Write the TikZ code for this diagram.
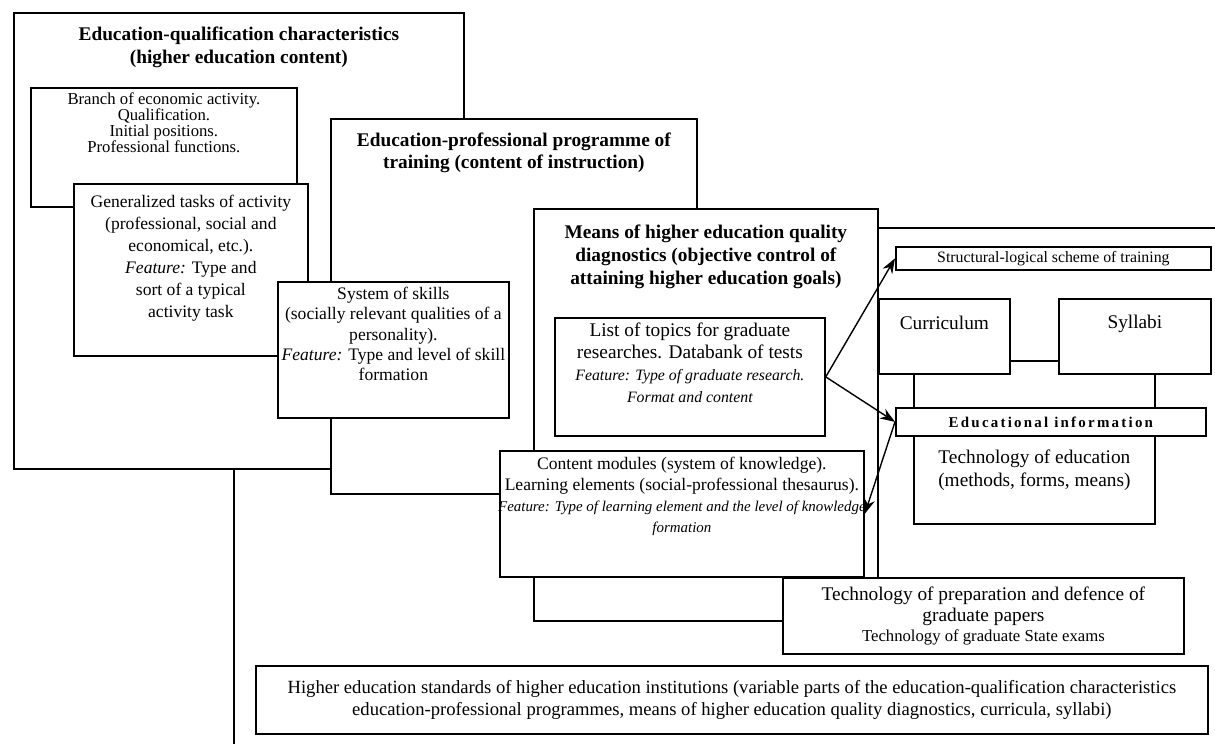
\documentclass[tikz,border=0pt]{standalone}
\usepackage{fontspec}
\setmainfont{Liberation Serif}
\newfontfamily\spacedfont[LetterSpace=15]{Liberation Serif}
\usetikzlibrary{arrows.meta}

\begin{document}
\begin{tikzpicture}[
  blk/.style={rectangle, draw, line width=1pt, fill=white, inner sep=0pt,
              anchor=north west},
  ttl/.style={anchor=north, align=center, inner sep=0pt,
              font=\fontsize{11}{13}\selectfont\bfseries},
  txt/.style={anchor=north, align=center, inner sep=0pt,
              font=\fontsize{10}{12}\selectfont},
  big/.style={font=\fontsize{11}{12.5}\selectfont},
  arr/.style={-{Stealth[length=3mm, width=2.2mm]}, line width=0.8pt},
]
\clip (0,0) rectangle (24.3,-14.86);

% --- back frames ---
\node[blk, minimum width=21cm, minimum height=10cm] (stdframe) at (4.66,-6.0) {};

% --- Education-qualification characteristics ---
\node[blk, minimum width=9cm, minimum height=9.12cm,
  label={[ttl, yshift=-0.3cm]north:{Education-qualification characteristics\\(higher education content)}}]
  (eqc) at (0.26,-0.24) {};
\node[blk, minimum width=5.32cm, minimum height=2.38cm,
  label={[txt, yshift=-0.1cm, font=\fontsize{9.5}{9.2}\selectfont]north:{Branch of economic activity.\\Qualification.\\Initial positions.\\Professional functions.}}]
  (branch) at (0.60,-1.74) {};
\node[blk, minimum width=4.68cm, minimum height=3.44cm,
  label={[txt, yshift=-0.24cm, font=\fontsize{10}{12.5}\selectfont]north:{Generalized tasks of activity\\(professional, social and\\economical, etc.).\\\textit{Feature:} Type and\\sort of a typical\\activity task}}]
  (tasks) at (1.46,-3.66) {};

% --- Education-professional programme ---
\node[blk, minimum width=7.32cm, minimum height=7.5cm,
  label={[ttl, yshift=-0.3cm, font=\fontsize{11}{12.5}\selectfont\bfseries]north:{Education-professional programme of\\training (content of instruction)}}]
  (prog) at (6.60,-2.36) {};
\node[blk, minimum width=4.62cm, minimum height=2.72cm,
  label={[txt, yshift=-0.12cm, font=\fontsize{10}{11.5}\selectfont]north:{System of skills\\(socially relevant qualities of a\\personality).\\\textit{Feature:} Type and level of skill\\formation}}]
  (skills) at (5.54,-5.62) {};

% --- right frame (only its top edge is seen) ---
\node[rectangle, fill=white, inner sep=0pt, anchor=north west,
  minimum width=8cm, minimum height=8cm] (rframe) at (17.2,-4.56) {};
\draw[line width=1pt] (rframe.north west) -- (rframe.north east);

% --- Means of quality diagnostics ---
\node[blk, minimum width=6.88cm, minimum height=8.24cm,
  label={[ttl, yshift=-0.34cm]north:{Means of higher education quality\\diagnostics (objective control of\\attaining higher education goals)}}]
  (diagn) at (10.66,-4.16) {};
\node[blk, minimum width=5.4cm, minimum height=2.36cm,
  label={[txt, yshift=-0.12cm, font=\fontsize{11}{12.5}\selectfont]north:{List of topics for graduate\\researches. Databank of tests\\{\fontsize{9}{12.5}\selectfont\itshape Feature: Type of graduate research.}\\{\fontsize{9}{12.5}\selectfont\itshape Format and content}}}]
  (topics) at (11.08,-6.34) {};
\node[blk, minimum width=7.28cm, minimum height=2.52cm,
  label={[txt, yshift=-0.14cm, font=\fontsize{10}{12}\selectfont]north:{Content modules (system of knowledge).\\Learning elements (social-professional thesaurus).\\{\fontsize{8.5}{12}\selectfont\itshape Feature: Type of learning element and the level of knowledge}\\{\fontsize{8.5}{12}\selectfont\itshape formation}}}]
  (modules) at (9.98,-9.0) {};

% --- curriculum block ---
\node[blk, minimum width=4.82cm, minimum height=3.26cm,
  label={[txt, big, yshift=-1.8cm, font=\fontsize{11}{13}\selectfont]north:{Technology of education\\(methods, forms, means)}}]
  (techedu) at (18.26,-7.2) {};
\node[blk, minimum width=2.62cm, minimum height=1.5cm,
  label={[txt, big, yshift=-0.36cm]north:{Curriculum}}] (curric) at (17.56,-5.96) {};
\node[blk, minimum width=3.04cm, minimum height=1.5cm,
  label={[txt, big, yshift=-0.34cm]north:{Syllabi}}] (syllabi) at (21.16,-5.96) {};
\node[blk, minimum width=6.3cm, minimum height=0.46cm,
  font=\fontsize{9}{10}\selectfont] (scheme) at (17.9,-4.92) {Structural-logical scheme of training};
\node[blk, minimum width=6.2cm, minimum height=0.56cm,
  font=\spacedfont\fontsize{8.5}{10}\selectfont\bfseries] (eduinfo) at (17.9,-8.14) {Educational information};

% --- graduate papers and standards ---
\node[blk, minimum width=8.02cm, minimum height=1.52cm,
  label={[txt, yshift=-0.2cm, font=\fontsize{11}{11.5}\selectfont]north:{Technology of preparation and defence of\\graduate papers\\{\fontsize{9.5}{11}\selectfont Technology of graduate State exams}}}]
  (techprep) at (15.64,-11.54) {};
\node[blk, minimum width=19.04cm, minimum height=1.36cm, align=center,
  font=\fontsize{10.6}{12.5}\selectfont] (standards) at (5.10,-13.3)
  {Higher education standards of higher education institutions (variable parts of the education-qualification characteristics\\
   education-professional programmes, means of higher education quality diagnostics, curricula, syllabi)};

\draw[arr] (topics.east) -- (scheme.west);
\draw[arr] (topics.east) -- (eduinfo.west);
\draw[arr] (eduinfo.west) -- (modules.east);
\end{tikzpicture}
\end{document}
